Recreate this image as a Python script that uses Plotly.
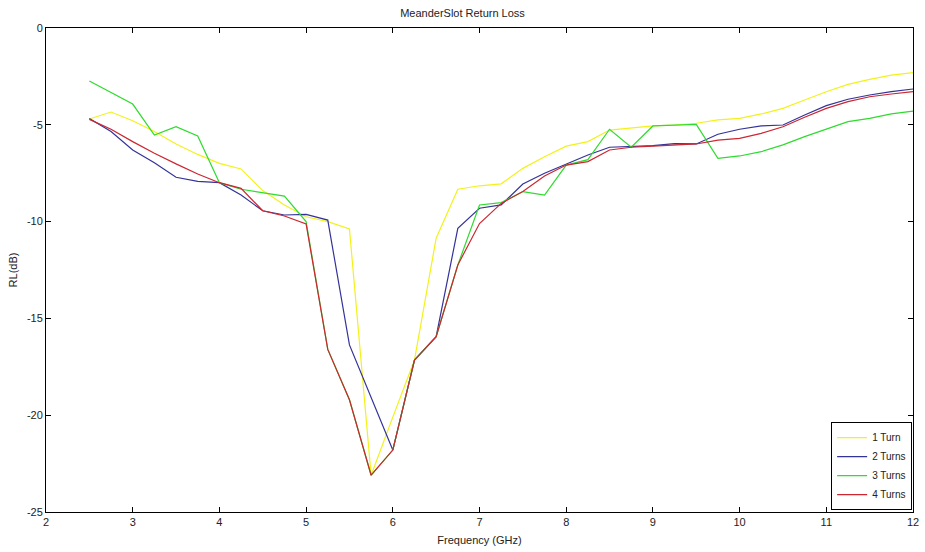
import plotly.graph_objects as go

freq = [2.5 + 0.25 * i for i in range(39)]

turn1 = [-4.70, -4.34, -4.79, -5.35, -5.99, -6.53, -6.99, -7.28, -8.40, -9.14,
         -9.75, -10.00, -10.38, -23.10, -20.10, -17.15, -10.86, -8.33, -8.15, -8.05,
         -7.25, -6.65, -6.10, -5.87, -5.27, -5.18, -5.06, -5.01, -4.92, -4.75,
         -4.67, -4.44, -4.15, -3.72, -3.29, -2.91, -2.65, -2.43, -2.31]
turn2 = [-4.67, -5.35, -6.30, -6.96, -7.71, -7.92, -7.99, -8.63, -9.44, -9.66,
         -9.63, -9.92, -16.37, -19.10, -21.80, -17.15, -15.94, -10.35, -9.31, -9.14,
         -8.06, -7.50, -7.02, -6.56, -6.16, -6.13, -6.08, -5.97, -5.99, -5.49,
         -5.23, -5.06, -5.01, -4.49, -4.01, -3.68, -3.46, -3.29, -3.15]
turn3 = [-2.74, -3.32, -3.93, -5.53, -5.10, -5.58, -7.99, -8.33, -8.49, -8.68,
         -10.00, -16.60, -19.20, -23.10, -21.80, -17.15, -15.94, -12.24, -9.14, -9.02,
         -8.45, -8.63, -7.08, -6.80, -5.23, -6.16, -5.06, -5.03, -4.98, -6.73,
         -6.61, -6.39, -6.04, -5.61, -5.23, -4.84, -4.67, -4.44, -4.29]
turn4 = [-4.72, -5.23, -5.87, -6.47, -7.02, -7.54, -7.99, -8.28, -9.44, -9.71,
         -10.12, -16.60, -19.20, -23.10, -21.80, -17.15, -15.94, -12.24, -10.10, -9.06,
         -8.45, -7.64, -7.08, -6.90, -6.30, -6.16, -6.10, -6.05, -5.99, -5.79,
         -5.70, -5.44, -5.10, -4.61, -4.15, -3.80, -3.55, -3.41, -3.29]

series = [("1 Turn", turn1, "#f2f21a"),
          ("2 Turns", turn2, "#333399"),
          ("3 Turns", turn3, "#2edb2e"),
          ("4 Turns", turn4, "#cc2630")]

xticks = list(range(2, 13))
yticks = [0, -5, -10, -15, -20, -25]

fig = go.Figure()
for name, vals, col in series:
    fig.add_trace(go.Scatter(x=freq, y=vals, mode="lines", name=name,
                             line=dict(color=col, width=1.2)))

axis_common = dict(showline=True, linecolor="black", linewidth=1, mirror="ticks",
                   ticks="inside", ticklen=5, tickcolor="black", showgrid=False,
                   zeroline=False, automargin=False,
                   tickfont=dict(size=11, color="#222"))

fig.update_layout(
    width=925, height=552,
    margin=dict(l=46, r=12, t=28, b=40, autoexpand=False),
    paper_bgcolor="white", plot_bgcolor="white",
    font=dict(family="Liberation Sans, Arial, sans-serif", size=11, color="#222"),
    title=dict(text="MeanderSlot Return Loss", x=0.5, xanchor="center",
               y=1 - 13 / 552, yanchor="middle", font=dict(size=11),
               automargin=False),
    xaxis=dict(range=[2, 12], tickvals=xticks, ticktext=[str(v) for v in xticks],
               title=dict(text="Frequency (GHz)", standoff=9, font=dict(size=11)),
               **axis_common),
    yaxis=dict(range=[-25, 0], tickvals=yticks, ticktext=[str(v) for v in yticks],
               title=dict(text="RL(dB)", standoff=7, font=dict(size=11)),
               **axis_common),
    legend=dict(x=0.999, y=0.004, xanchor="right", yanchor="bottom",
                bgcolor="white", bordercolor="black", borderwidth=1,
                font=dict(size=10), tracegroupgap=0, itemwidth=30),
    showlegend=True,
)

fig.write_html(
    "out.html",
    config={"displayModeBar": False},
    post_script="document.body.style.margin='0';document.body.style.overflow='hidden';",
)
